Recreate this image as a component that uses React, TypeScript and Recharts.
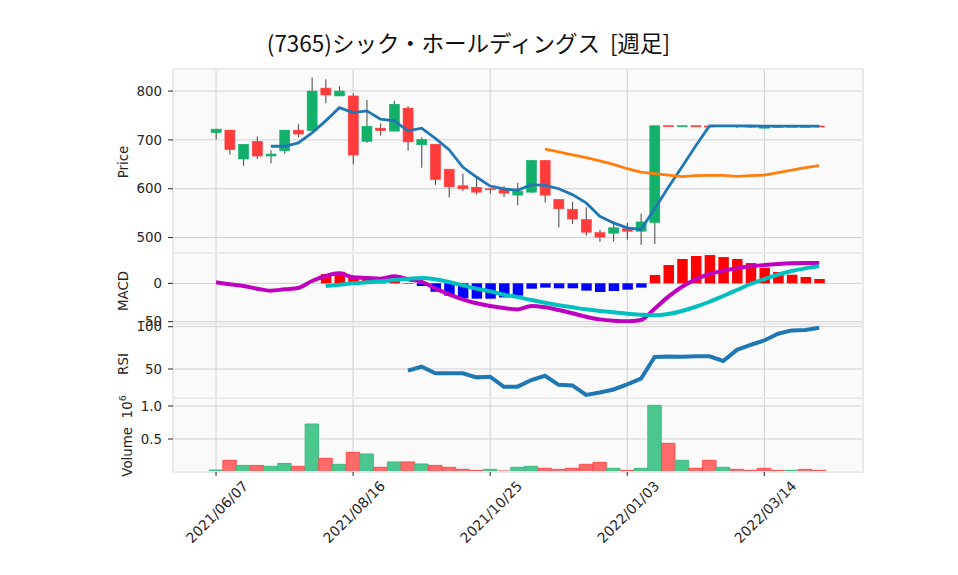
import React from 'react';
import { ComposedChart, Bar, Line, XAxis, YAxis, CartesianGrid, Cell } from 'recharts';

// weekly candles, index 0 = 2021/06/07
const opens = [715, 720, 661, 697, 667, 678, 720, 719, 806, 790, 790, 697, 724, 718, 765, 690, 691, 640, 606, 603, 600, 598, 587, 593, 658, 578, 558, 537, 510, 509, 518, 513, 531, 729, 728.5, 729, 728.5, 728, 729, 728.5, 724, 727, 727.5, 727, 728.5];
const highs = [723, 720, 691, 707, 679, 720, 732, 828, 824, 810, 795, 782, 734, 780, 769, 705, 691, 640, 631, 621, 600, 605, 612, 659, 659, 578, 573, 562, 516, 533, 530, 549, 729, 729, 729, 729, 729, 729, 729, 729, 728, 728, 728.5, 728.5, 729];
const lows = [701, 670, 647, 661, 652, 672, 705, 719, 775, 790, 650, 694, 709, 718, 678, 643, 608, 582, 595, 588, 590, 583, 566, 591, 572, 521, 528, 504, 491, 492, 496, 485, 487, 728.5, 728.5, 728, 728, 728, 724, 724, 723.5, 727, 727, 727, 727.5];
const closes = [722, 680, 691, 667, 671, 720, 712, 800, 792, 800, 669, 728, 719, 773, 696, 701, 619, 604, 600, 593, 598, 591, 595, 658, 587, 559, 538, 511, 501, 520, 513, 532, 729, 728.5, 729, 728.5, 728, 729, 728.5, 728, 727.9, 727.5, 728, 727.8, 727.5];
const ma5 = [null, null, null, null, 687, 687, 694, 714.5, 739, 766, 756, 759.5, 742.5, 739, 718.5, 724, 703, 680, 644.5, 624, 605.5, 599.5, 597, 608.5, 607, 600, 588, 571, 543.5, 530, 520, 516.5, 559, 603, 645, 688, 728.6, 728.6, 728.6, 728.5, 728.4, 728.3, 728.3, 728.2, 728.2];
const ma25 = [null, null, null, null, null, null, null, null, null, null, null, null, null, null, null, null, null, null, null, null, null, null, null, null, 681, 675.5, 669.5, 663.5, 657, 650, 641, 634, 631, 628, 625, 627, 627.5, 627.5, 625.5, 627, 628, 633, 638, 643, 647.5];
const macd = [1.3, -1.3, -3.5, -7, -9.6, -7.8, -6.1, 3, 9.5, 13, 7.8, 6.9, 6, 9.1, 5.2, 2, -6.5, -14.3, -20.8, -26, -29.6, -32.2, -34, -29.6, -31.3, -34.8, -39, -43.5, -47, -48.7, -49.5, -47.8, -33, -17.4, -4.4, 5.2, 12.1, 16.4, 19.5, 22.1, 23.8, 25.1, 26, 26.4, 26.4];
const signal = [null, null, null, null, null, null, null, null, -3.5, -1.8, 0, 1.3, 2.6, 4.3, 5.6, 6.9, 5.2, 1.7, -2.6, -7, -10.4, -14.8, -18, -21.7, -25.3, -28.6, -31.3, -33.9, -36, -37.8, -39.6, -40.9, -41.7, -40, -36, -30.5, -24, -16.5, -8.7, -0.9, 5.6, 11.2, 16, 19.5, 22.1];
const hist = [null, null, null, null, null, null, null, null, 12, 15, 8, 5.5, 3.5, 4, -0.6, -3.5, -11, -16, -19.6, -20, -20, -18.4, -16, -7, -5.6, -6.5, -6.5, -9.5, -11.3, -10, -8.2, -5.6, 10.8, 23.8, 31.7, 35.6, 36.8, 34.2, 31.7, 26.4, 20.3, 14.7, 11.2, 8.2, 5.6];
const rsi = [null, null, null, null, null, null, null, null, null, null, null, null, null, null, 48, 52.7, 44.9, 45, 44.9, 40.1, 40.9, 28.9, 29.1, 36.9, 42, 31.3, 30.6, 19.4, 22.2, 25.8, 31.8, 38.5, 64.3, 64.9, 64.6, 65, 65, 59.5, 72.6, 78.6, 83.7, 91.7, 95.6, 96, 98.8];
const volume = [30000, 177000, 100000, 100000, 86000, 130000, 86000, 727000, 207000, 116000, 298000, 273000, 71000, 152000, 152000, 121000, 100000, 71000, 40000, 25000, 40000, 15000, 71000, 86000, 56000, 40000, 56000, 116000, 146000, 56000, 25000, 56000, 1010000, 434000, 177000, 56000, 177000, 71000, 40000, 25000, 56000, 25000, 25000, 40000, 25000];

const tickIdx = [0, 10, 20, 30, 40];
const tickLabels = ['2021/06/07', '2021/08/16', '2021/10/25', '2022/01/03', '2022/03/14'];

const rows = closes.map((c, i) => ({
  i,
  open: opens[i],
  high: highs[i],
  low: lows[i],
  close: c,
  range: [lows[i], highs[i]],
  ma5: ma5[i],
  ma25: ma25[i],
  macd: macd[i],
  signal: signal[i],
  hist: hist[i],
  rsi: rsi[i],
  vol: volume[i],
  volUp: i === 0 || c >= closes[i - 1],
}));

const JP = '"Noto Sans CJK JP", "Noto Sans", sans-serif';
const LAT = '"DejaVu Sans", sans-serif';
const UP = '#13b06b';
const DOWN = '#ff3b3b';
const X_DOMAIN = [-3.14, 47.2];
const W = 958;
const M = { top: 0, right: 95, bottom: 0, left: 0 };
const tickStyle = { fontSize: 13.4, fill: '#262626', fontFamily: LAT };

// plot areas (page px): price, macd, rsi, volume
const panels = [
  { top: 69, h: 184 },
  { top: 253, h: 71 },
  { top: 324, h: 74 },
  { top: 398, h: 74 },
];

const Candle = (props: any) => {
  const { x, y, width, height, payload } = props;
  if (x == null || !payload) return null;
  const { open, close, high, low } = payload;
  const color = close >= open ? UP : DOWN;
  const ppu = height / (high - low);
  const cx = x + width / 2;
  const top = y + (high - Math.max(open, close)) * ppu;
  const bot = y + (high - Math.min(open, close)) * ppu;
  return (
    <g>
      <line x1={cx} x2={cx} y1={y} y2={y + height} stroke="#444" strokeWidth={1} />
      <rect x={x} y={top} width={width} height={Math.max(bot - top, 1)} fill={color} stroke={color} strokeWidth={0.6} />
    </g>
  );
};

const DateTick = ({ x, y, payload }: any) => {
  const label = tickLabels[tickIdx.indexOf(payload.value)];
  const px = x + 33;
  const py = y + 9;
  return (
    <text x={px} y={py} textAnchor="end" fontSize={14} fill="#262626" fontFamily={LAT} transform={`rotate(-45 ${px} ${py})`}>
      {label}
    </text>
  );
};

const Grid = () => <CartesianGrid stroke="#d0d0d0" fill="#fafafa" />;

const HiddenX = () => (
  <XAxis type="number" dataKey="i" domain={X_DOMAIN} ticks={tickIdx} allowDataOverflow hide />
);

const yProps = {
  type: 'number' as const,
  width: 173,
  allowDataOverflow: true,
  axisLine: false,
  tickLine: { stroke: '#222' },
  tickSize: 5,
  tickMargin: 6,
  tick: tickStyle,
  interval: 0 as const,
};

export default function App() {
  return (
    <div style={{ position: 'absolute', left: 0, top: 0, width: W, height: 575, background: '#fff', fontFamily: JP }}>
      <style>{'.recharts-surface{overflow:visible}'}</style>
      <div style={{ position: 'absolute', left: 0, top: panels[0].top }}>
        <ComposedChart width={W} height={panels[0].h} data={rows} margin={M}>
          <Grid />
          <HiddenX />
          <YAxis {...yProps} domain={[468.4, 845.2]} ticks={[500, 600, 700, 800]} />
          <Bar dataKey="range" barSize={10} shape={Candle} isAnimationActive={false} />
          <Line type="linear" dataKey="ma5" stroke="#1f77b4" strokeWidth={2.8} dot={false} isAnimationActive={false} />
          <Line type="linear" dataKey="ma25" stroke="#ff7f0e" strokeWidth={2.8} dot={false} isAnimationActive={false} />
        </ComposedChart>
      </div>

      <div style={{ position: 'absolute', left: 0, top: panels[1].top }}>
        <ComposedChart width={W} height={panels[1].h} data={rows} margin={M}>
          <Grid />
          <HiddenX />
          <YAxis {...yProps} domain={[-53, 39.5]} ticks={[-50, 0]} />
          <Bar dataKey="hist" barSize={10.5} isAnimationActive={false}>
            {rows.map((r, i) => (
              <Cell key={i} fill={(r.hist ?? 0) >= 0 ? '#ff0000' : '#0000ff'} />
            ))}
          </Bar>
          <Line type="monotone" dataKey="macd" stroke="#bf00bf" strokeWidth={4} dot={false} isAnimationActive={false} />
          <Line type="monotone" dataKey="signal" stroke="#00bfbf" strokeWidth={4} dot={false} isAnimationActive={false} />
        </ComposedChart>
      </div>

      <div style={{ position: 'absolute', left: 0, top: panels[2].top }}>
        <ComposedChart width={W} height={panels[2].h} data={rows} margin={M}>
          <Grid />
          <HiddenX />
          <YAxis {...yProps} domain={[15.7, 103.2]} ticks={[50, 100]} />
          <Line type="linear" dataKey="rsi" stroke="#1f77b4" strokeWidth={4} dot={false} isAnimationActive={false} />
        </ComposedChart>
      </div>

      <div style={{ position: 'absolute', left: 0, top: panels[3].top }}>
        <ComposedChart width={W} height={panels[3].h + 90} data={rows} margin={M}>
          <Grid />
          <XAxis type="number" dataKey="i" domain={X_DOMAIN} ticks={tickIdx} allowDataOverflow height={90}
            axisLine={false} tickLine={{ stroke: '#222' }} tickSize={4} tick={<DateTick />} interval={0} />
          <YAxis {...yProps} domain={[0, 1121000]} ticks={[500000, 1000000]}
            tickFormatter={(v: number) => (v / 1e6).toFixed(1)} />
          <Bar dataKey="vol" barSize={13.4} isAnimationActive={false}>
            {rows.map((r, i) => (
              <Cell key={i} fill={r.volUp ? '#4cc68f' : '#ff6b6b'} stroke={r.volUp ? '#3dbb82' : '#ff4a4a'} strokeWidth={1} />
            ))}
          </Bar>
        </ComposedChart>
      </div>

      {panels.map((p, k) => (
        <div key={k} style={{ position: 'absolute', left: 173, top: p.top, width: 690, height: p.h, boxSizing: 'border-box', border: '1px solid #ebebeb', pointerEvents: 'none' }} />
      ))}

      <svg width={W} height={575} style={{ position: 'absolute', left: 0, top: 0, pointerEvents: 'none' }}>
        <text x={468.5} y={52} textAnchor="middle" fontSize={22.5} fill="#111" fontFamily={JP} style={{ whiteSpace: 'pre' }}>
          {'(7365)シック・ホールディングス  [週足]'}
        </text>
        <g fontFamily={LAT} fontSize={13.4} fill="#262626">
          <text x={128} y={162} textAnchor="middle" transform="rotate(-90 128 162)">Price</text>
          <text x={128} y={291} textAnchor="middle" transform="rotate(-90 128 291)">MACD</text>
          <text x={128} y={364} textAnchor="middle" transform="rotate(-90 128 364)">RSI</text>
          <text x={132} y={436} textAnchor="middle" transform="rotate(-90 132 436)" style={{ whiteSpace: 'pre' }}>
            {'Volume  10'}<tspan fontSize={9.5} dy={-6}>6</tspan>
          </text>
        </g>
      </svg>
    </div>
  );
}
